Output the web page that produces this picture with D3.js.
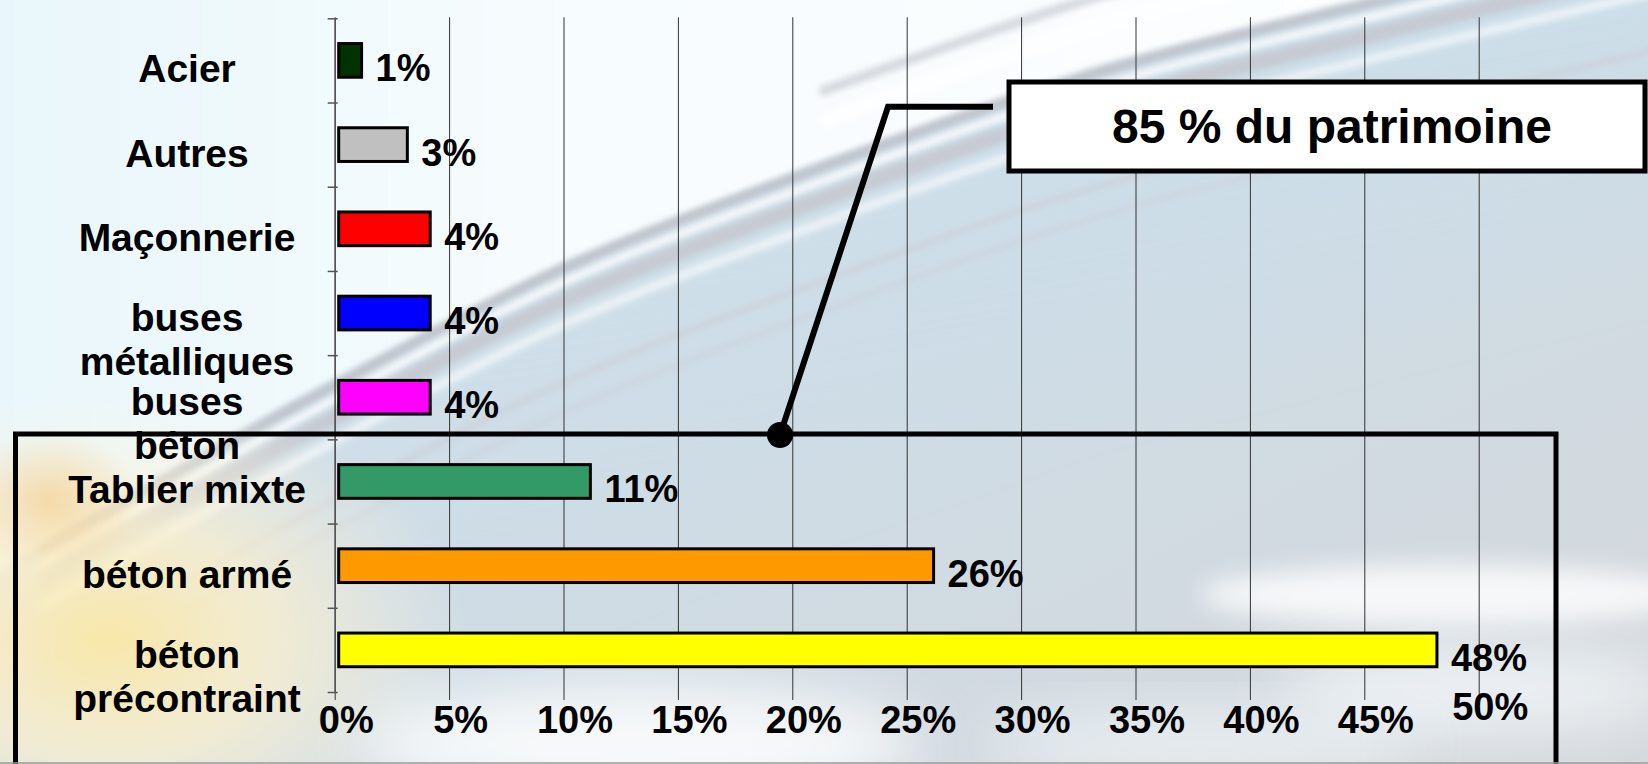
<!DOCTYPE html>
<html lang="fr">
<head>
<meta charset="utf-8">
<title>Patrimoine des ouvrages par type de structure</title>
<script src="https://cdn.jsdelivr.net/npm/d3@7"></script>
<style>
  html, body { margin: 0; padding: 0; background: #ffffff; overflow: hidden; }
  svg { display: block; }
  text { font-family: "Liberation Sans", Arial, Helvetica, sans-serif; font-weight: bold; fill: #000; }
</style>
</head>
<body>
<svg id="chart" width="1648" height="764"></svg>
<script>
// ---- data ----
const categories = ["Acier", "Autres", "Maçonnerie", "buses\nmétalliques", "buses\nbéton",
                    "Tablier mixte", "béton armé", "béton\nprécontraint"];
const shares = [1, 3, 4, 4, 4, 11, 26, 48];           // % of the bridge stock
const barColors = ["#003300", "#c0c0c0", "#ff0000", "#0000ff", "#ff00ff",
                   "#339966", "#ff9900", "#ffff00"];
const xTicks = [0, 5, 10, 15, 20, 25, 30, 35, 40, 45, 50];
const calloutText = "85 % du patrimoine";

// ---- layout ----
const W = 1648, H = 764;
const plot = { left: 334.7, right: 1478.7, top: 18.3, bottom: 692, axisY: 700 };

const svg = d3.select("#chart");
const defs = svg.append("defs");

function addBlur(id, sd) {
  defs.append("filter").attr("id", id)
    .attr("x", "-40%").attr("y", "-40%").attr("width", "180%").attr("height", "180%")
    .append("feGaussianBlur").attr("stdDeviation", sd);
}
addBlur("soft", 30);
addBlur("mid", 12);
addBlur("fine", 3);

function gradient(id, type, attrs, stops) {
  const g = defs.append(type).attr("id", id);
  Object.entries(attrs).forEach(([k, v]) => g.attr(k, v));
  stops.forEach(([o, c, a]) => g.append("stop").attr("offset", o).attr("stop-color", c).attr("stop-opacity", a));
}
gradient("bgBase", "linearGradient", { x1: 0, y1: 0, x2: 1, y2: 1 },
  [[0, "#d9e7ef", 1], [0.5, "#cfdde6", 1], [1, "#d4d7db", 1]]);
gradient("skyGrad", "linearGradient", { x1: 0, y1: 0, x2: 1, y2: 0 },
  [[0, "#e7f6fb", 1], [0.35, "#f7fcfe", 1], [1, "#ffffff", 1]]);
gradient("warmGlow", "radialGradient", { cx: 0.5, cy: 0.5, r: 0.5 },
  [[0, "#fbe8a6", 0.95], [0.45, "#fcf0cc", 0.75], [1, "#fdf6e2", 0]]);
gradient("orangeSpot", "radialGradient", { cx: 0.5, cy: 0.5, r: 0.5 },
  [[0, "#f4c070", 0.5], [1, "#f4c070", 0]]);
gradient("blueBand", "linearGradient", { x1: 0, y1: 0, x2: 0.3, y2: 1 },
  [[0, "#c8e2f0", 0.95], [1, "#cfd8e0", 0]]);

// ---- backdrop: sky, deck streaks, warm light ----
const bg = svg.append("g");
bg.append("rect").attr("width", W).attr("height", H).attr("fill", "url(#bgBase)");

const edge = [[40, 545], [300, 398], [560, 264], [820, 162], [1100, 66], [1400, -10], [1700, -80]];
const curve = d3.line().curve(d3.curveCatmullRom);
const shift = (pts, dx, dy) => pts.map(([px, py]) => [px + dx, py + dy]);

// band of light blue just under the deck edge
bg.append("path")
  .attr("d", curve(edge) + "L" + shift(edge, 0, 320).reverse().map(p => p.join(",")).join("L") + "Z")
  .attr("fill", "url(#blueBand)").attr("filter", "url(#soft)");

// bright sky above the deck edge
bg.append("path")
  .attr("d", "M-80,-100L1750,-100L" + edge.slice().reverse().map(p => p.join(",")).join("L") + "L-80,620Z")
  .attr("fill", "url(#skyGrad)").attr("filter", "url(#fine)");

// deck streaks
const streaks = [
  { dy: 6, w: 10, c: "#bfc1c9", o: 0.9 },
  { dy: 20, w: 7, c: "#ffffff", o: 0.9 },
  { dy: 38, w: 16, c: "#c4c6ce", o: 0.8 },
  { dy: 62, w: 9, c: "#f4f8fb", o: 0.8 },
  { dy: 120, w: 6, c: "#c9c3cb", o: 0.45 },
  { dy: 150, w: 5, c: "#c9c3cb", o: 0.35 }
];
streaks.forEach(s => {
  bg.append("path").attr("d", curve(shift(edge, 0, s.dy)))
    .attr("fill", "none").attr("stroke", s.c).attr("stroke-width", s.w)
    .attr("stroke-opacity", s.o).attr("filter", "url(#fine)");
});
// upper-right streaks above the deck
[{ dy: -40, w: 14, c: "#ffffff", o: 0.7 }, { dy: -70, w: 10, c: "#c6cbd2", o: 0.7 }].forEach(s => {
  bg.append("path").attr("d", curve(shift(edge.slice(3), 0, s.dy)))
    .attr("fill", "none").attr("stroke", s.c).attr("stroke-width", s.w)
    .attr("stroke-opacity", s.o).attr("filter", "url(#fine)");
});

// warm light on the lower left
bg.append("ellipse").attr("cx", 110).attr("cy", 640).attr("rx", 360).attr("ry", 250)
  .attr("fill", "url(#warmGlow)");
bg.append("ellipse").attr("cx", 50).attr("cy", 500).attr("rx", 90).attr("ry", 70)
  .attr("fill", "url(#orangeSpot)");
// pale patches along the bottom
bg.append("ellipse").attr("cx", 640).attr("cy", 745).attr("rx", 280).attr("ry", 60)
  .attr("fill", "#ffffff").attr("opacity", 0.85).attr("filter", "url(#soft)");
bg.append("ellipse").attr("cx", 1450).attr("cy", 595).attr("rx", 250).attr("ry", 30)
  .attr("fill", "#ffffff").attr("opacity", 0.8).attr("filter", "url(#mid)");
bg.append("ellipse").attr("cx", 1480).attr("cy", 690).attr("rx", 200).attr("ry", 45)
  .attr("fill", "#f3f7fa").attr("opacity", 0.8).attr("filter", "url(#soft)");
bg.append("ellipse").attr("cx", 1200).attr("cy", 745).attr("rx", 220).attr("ry", 35)
  .attr("fill", "#f1f6f9").attr("opacity", 0.75).attr("filter", "url(#soft)");

// ---- scales ----
const x = d3.scaleLinear().domain([0, 50]).range([plot.left, plot.right]);
const y = d3.scaleBand().domain(categories).range([plot.top, plot.bottom]).padding(0);
const bw = y.bandwidth();
const barH = bw * 0.4;

// ---- vertical gridlines + tick labels ----
const gx = svg.append("g")
  .attr("transform", `translate(0,${plot.axisY})`)
  .attr("font-family", "\"Liberation Sans\", Arial, sans-serif")
  .call(d3.axisBottom(x).tickValues(xTicks).tickFormat(d => d + "%")
        .tickSize(-(plot.axisY - plot.top + 1)).tickPadding(6));
gx.select(".domain").remove();
gx.selectAll(".tick line").attr("stroke", "#333").attr("stroke-width", 1);
gx.selectAll(".tick text")
  .attr("x", 11).attr("y", 6).attr("dy", "0.71em")
  .attr("font-size", 38).attr("font-weight", "bold").attr("fill", "#000");
gx.selectAll(".tick").filter(d => d === 50).select("text").attr("y", -7);

// ---- category axis ----
const yb = d3.scaleLinear().domain([0, categories.length]).range([plot.top, plot.bottom]);
const gy = svg.append("g")
  .attr("transform", `translate(${plot.left},0)`)
  .call(d3.axisLeft(yb).tickValues(d3.range(categories.length + 1)).tickFormat("")
        .tickSizeInner(7).tickSizeOuter(0));
gy.select(".domain").attr("stroke", "#555").attr("stroke-width", 1.5);
gy.selectAll(".tick line").attr("stroke", "#555").attr("stroke-width", 1.5).attr("x1", 3);

// wrapped labels start a little higher so consecutive rows stay clear of each other
const catLabels = svg.append("g").attr("text-anchor", "middle").attr("font-size", 39);
categories.forEach(c => {
  const lines = c.split("\n");
  const t = catLabels.append("text")
    .attr("x", 187).attr("y", y(c) + bw / 2 + (lines.length > 1 ? 4 : 8))
    .attr("dominant-baseline", "central");
  lines.forEach((line, i) => {
    t.append("tspan").attr("x", 187).attr("dy", i === 0 ? 0 : 44).text(line);
  });
});

// ---- bars ----
const rows = categories.map((c, i) => ({ c, v: shares[i], color: barColors[i] }));
svg.append("g").selectAll("rect").data(rows).join("rect")
  .attr("x", x(0) + 4)
  .attr("y", d => y(d.c) + (bw - barH) / 2)
  .attr("width", d => x(d.v) - x(0))
  .attr("height", barH)
  .attr("fill", d => d.color)
  .attr("stroke", "#000").attr("stroke-width", 3);

svg.append("g").attr("font-size", 38).selectAll("text").data(rows).join("text")
  .attr("x", d => x(d.v) + 18)
  .attr("y", d => y(d.c) + bw / 2 + 8)
  .attr("dominant-baseline", "central")
  .text(d => d.v + "%");

// ---- frame around the concrete / composite structures ----
svg.append("rect")
  .attr("x", 15.5).attr("y", 434).attr("width", 1540.5).attr("height", 360)
  .attr("fill", "none").attr("stroke", "#000").attr("stroke-width", 5);

// ---- callout ----
svg.append("path")
  .attr("d", "M780,435L888,106.7L993,106.7")
  .attr("fill", "none").attr("stroke", "#000").attr("stroke-width", 6)
  .attr("stroke-linejoin", "miter");
svg.append("circle").attr("cx", 780).attr("cy", 435).attr("r", 13).attr("fill", "#000");

svg.append("rect")
  .attr("x", 1009).attr("y", 82).attr("width", 636).attr("height", 89)
  .attr("fill", "#fff").attr("stroke", "#000").attr("stroke-width", 5);
svg.append("text")
  .attr("x", 1332).attr("y", 126.5).attr("text-anchor", "middle")
  .attr("dominant-baseline", "central").attr("font-size", 48)
  .text(calloutText);

// bottom edge rule
svg.append("line").attr("x1", 0).attr("x2", W).attr("y1", 763).attr("y2", 763)
  .attr("stroke", "#9a9a9a").attr("stroke-width", 1.5);
</script>
</body>
</html>
